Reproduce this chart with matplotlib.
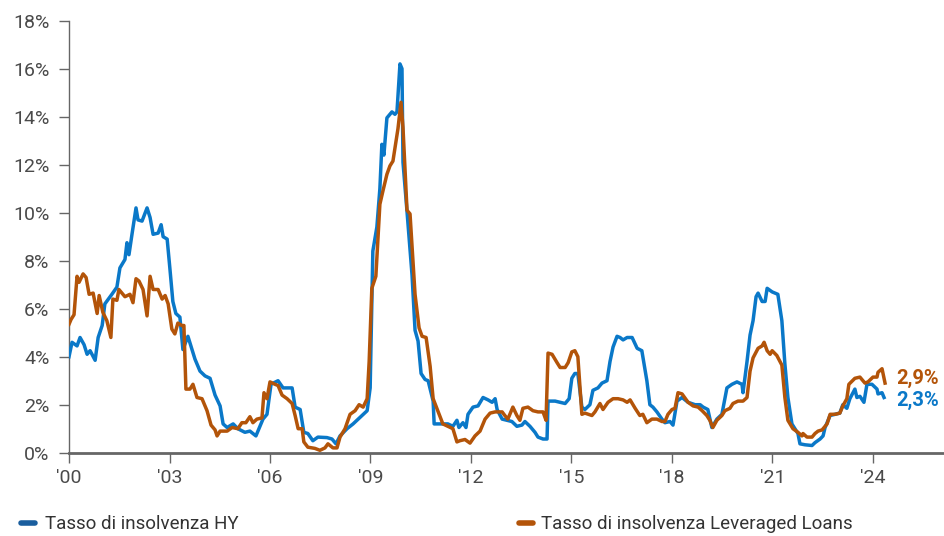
import matplotlib
matplotlib.use("Agg")
import matplotlib.pyplot as plt
from matplotlib.lines import Line2D

plt.rcParams['font.family'] = ['Roboto', 'DejaVu Sans']

# Tasso di insolvenza HY (decimal year, %)
hy_year = [2000.0, 2000.09, 2000.24, 2000.33, 2000.45, 2000.54, 2000.63, 2000.78, 2000.87, 2000.99,
           2001.07, 2001.28, 2001.43, 2001.52, 2001.67, 2001.73, 2001.79, 2001.88, 2002.0, 2002.06,
           2002.18, 2002.33, 2002.42, 2002.51, 2002.66, 2002.75, 2002.81, 2002.93, 2003.01, 2003.10,
           2003.19, 2003.31, 2003.40, 2003.55, 2003.76, 2003.91, 2004.06, 2004.21, 2004.36, 2004.51,
           2004.60, 2004.72, 2004.90, 2005.04, 2005.25, 2005.40, 2005.58, 2005.79, 2005.91, 2006.03,
           2006.24, 2006.39, 2006.66, 2006.75, 2006.90, 2007.01, 2007.13, 2007.28, 2007.43, 2007.70,
           2007.85, 2007.97, 2008.09, 2008.30, 2008.48, 2008.75, 2008.90, 2008.99, 2009.04, 2009.07,
           2009.19, 2009.28, 2009.34, 2009.40, 2009.49, 2009.64, 2009.73, 2009.79, 2009.88, 2009.94,
           2009.97, 2010.09, 2010.24, 2010.33, 2010.42, 2010.51, 2010.63, 2010.72, 2010.87, 2010.90,
           2011.07, 2011.31, 2011.46, 2011.58, 2011.64, 2011.76, 2011.85, 2011.91, 2012.06, 2012.21,
           2012.36, 2012.51, 2012.63, 2012.72, 2012.78, 2012.93, 2013.07, 2013.22, 2013.37, 2013.52,
           2013.61, 2013.76, 2013.91, 2014.0, 2014.15, 2014.27, 2014.30, 2014.51, 2014.66, 2014.81,
           2014.93, 2015.01, 2015.10, 2015.19, 2015.31, 2015.40, 2015.55, 2015.64, 2015.79, 2015.91,
           2016.06, 2016.15, 2016.24, 2016.36, 2016.45, 2016.54, 2016.66, 2016.81, 2016.96, 2017.10,
           2017.25, 2017.34, 2017.43, 2017.55, 2017.70, 2017.79, 2017.94, 2018.03, 2018.15, 2018.30,
           2018.48, 2018.69, 2018.84, 2018.93, 2019.07, 2019.19, 2019.34, 2019.49, 2019.64, 2019.79,
           2019.94, 2020.09, 2020.12, 2020.24, 2020.33, 2020.42, 2020.51, 2020.57, 2020.69, 2020.78,
           2020.84, 2020.99, 2021.16, 2021.28, 2021.37, 2021.46, 2021.58, 2021.67, 2021.76, 2021.82,
           2021.97, 2022.18, 2022.27, 2022.42, 2022.51, 2022.57, 2022.72, 2022.87, 2023.01, 2023.10,
           2023.22, 2023.31, 2023.46, 2023.52, 2023.61, 2023.73, 2023.82, 2023.97, 2024.12, 2024.15,
           2024.27, 2024.33]
hy_rate = [4.0, 4.6, 4.45, 4.8, 4.5, 4.1, 4.25, 3.85, 4.8, 5.3,
           6.2, 6.6, 6.9, 7.7, 8.05, 8.75, 8.25, 9.1, 10.2, 9.7,
           9.65, 10.2, 9.8, 9.1, 9.15, 9.5, 9.0, 8.9, 7.7, 6.3,
           5.8, 5.65, 4.3, 4.85, 3.9, 3.4, 3.2, 3.1, 2.4, 1.95,
           1.2, 1.05, 1.2, 1.0, 0.85, 0.9, 0.7, 1.4, 1.6, 2.85,
           3.0, 2.7, 2.7, 1.9, 1.8, 0.85, 0.8, 0.5, 0.65, 0.63,
           0.57, 0.37, 0.7, 1.0, 1.2, 1.55, 1.75, 2.7, 6.3, 8.4,
           9.4, 11.0, 12.85, 12.4, 13.95, 14.2, 14.1, 14.2, 16.2, 16.0,
           12.1, 10.05, 7.4, 5.1, 4.65, 3.3, 3.05, 3.0, 2.15, 1.2,
           1.2, 1.2, 1.1, 1.35, 1.05, 1.25, 1.05, 1.6, 1.9, 1.95,
           2.3, 2.2, 2.1, 2.25, 1.8, 1.4, 1.35, 1.3, 1.1, 1.15,
           1.3, 1.1, 0.85, 0.65, 0.57, 0.57, 2.15, 2.15, 2.1, 2.05,
           2.25, 3.1, 3.3, 3.3, 1.9, 1.8, 2.0, 2.6, 2.7, 2.9,
           3.0, 3.8, 4.4, 4.85, 4.8, 4.7, 4.8, 4.8, 4.35, 4.25,
           3.0, 2.0, 1.9, 1.7, 1.4, 1.25, 1.3, 1.15, 2.15, 2.3,
           2.1, 2.0, 2.0, 1.9, 1.8, 1.05, 1.4, 1.6, 2.7, 2.85,
           2.95, 2.85, 2.5, 3.8, 4.9, 5.5, 6.5, 6.65, 6.3, 6.3,
           6.85, 6.7, 6.6, 5.5, 3.7, 2.3, 1.2, 1.0, 0.8, 0.37,
           0.33, 0.3, 0.42, 0.57, 0.7, 1.05, 1.55, 1.6, 1.65, 2.0,
           1.85, 2.25, 2.65, 2.3, 2.35, 2.1, 2.85, 2.85, 2.65, 2.45,
           2.5, 2.3]

# Tasso di insolvenza Leveraged Loans (decimal year, %)
ll_year = [2000.0, 2000.06, 2000.15, 2000.24, 2000.30, 2000.42, 2000.51, 2000.60, 2000.72, 2000.84,
           2000.90, 2001.01, 2001.13, 2001.25, 2001.31, 2001.43, 2001.49, 2001.67, 2001.82, 2001.91,
           2002.0, 2002.09, 2002.21, 2002.33, 2002.42, 2002.51, 2002.66, 2002.78, 2002.87, 2002.96,
           2003.07, 2003.16, 2003.25, 2003.37, 2003.43, 2003.49, 2003.61, 2003.70, 2003.82, 2003.97,
           2004.12, 2004.24, 2004.36, 2004.42, 2004.51, 2004.72, 2004.87, 2005.04, 2005.16, 2005.28,
           2005.40, 2005.49, 2005.61, 2005.76, 2005.82, 2005.91, 2006.0, 2006.15, 2006.24, 2006.36,
           2006.51, 2006.66, 2006.75, 2006.84, 2006.96, 2007.01, 2007.13, 2007.34, 2007.49, 2007.64,
           2007.73, 2007.88, 2008.0, 2008.09, 2008.24, 2008.39, 2008.54, 2008.66, 2008.78, 2008.90,
           2008.96, 2009.04, 2009.16, 2009.28, 2009.37, 2009.49, 2009.58, 2009.67, 2009.76, 2009.82,
           2009.91, 2009.97, 2010.09, 2010.18, 2010.33, 2010.45, 2010.54, 2010.66, 2010.78, 2010.87,
           2011.16, 2011.46, 2011.58, 2011.67, 2011.82, 2011.97, 2012.12, 2012.27, 2012.42, 2012.57,
           2012.72, 2012.93, 2013.01, 2013.10, 2013.25, 2013.37, 2013.46, 2013.55, 2013.70, 2013.85,
           2014.0, 2014.15, 2014.24, 2014.30, 2014.42, 2014.57, 2014.66, 2014.81, 2014.90, 2015.01,
           2015.10, 2015.19, 2015.31, 2015.40, 2015.61, 2015.70, 2015.85, 2015.94, 2016.09, 2016.24,
           2016.39, 2016.54, 2016.66, 2016.75, 2016.90, 2017.04, 2017.13, 2017.25, 2017.40, 2017.55,
           2017.70, 2017.79, 2017.88, 2018.0, 2018.09, 2018.18, 2018.30, 2018.48, 2018.63, 2018.78,
           2018.90, 2019.04, 2019.13, 2019.22, 2019.34, 2019.49, 2019.58, 2019.73, 2019.82, 2019.97,
           2020.12, 2020.24, 2020.33, 2020.42, 2020.57, 2020.69, 2020.75, 2020.84, 2020.93, 2020.99,
           2021.13, 2021.28, 2021.37, 2021.46, 2021.61, 2021.76, 2021.88, 2021.91, 2022.03, 2022.18,
           2022.27, 2022.36, 2022.48, 2022.63, 2022.72, 2022.87, 2023.01, 2023.10, 2023.22, 2023.28,
           2023.46, 2023.61, 2023.76, 2023.85, 2024.0, 2024.12, 2024.15, 2024.27, 2024.36]
ll_rate = [5.35, 5.55, 5.75, 7.35, 7.1, 7.45, 7.3, 6.6, 6.65, 5.8,
           6.55, 5.85, 5.5, 4.8, 6.4, 6.35, 6.8, 6.5, 6.6, 6.25,
           7.25, 7.15, 6.8, 5.7, 7.35, 6.8, 6.8, 6.4, 6.55, 6.2,
           5.15, 4.95, 5.4, 5.3, 5.3, 2.65, 2.65, 2.85, 2.3, 2.25,
           1.75, 1.15, 0.95, 0.7, 0.9, 0.9, 1.05, 1.0, 1.25, 1.25,
           1.5, 1.25, 1.4, 1.45, 2.5, 2.25, 2.95, 2.85, 2.8, 2.4,
           2.25, 2.05, 1.55, 1.0, 1.0, 0.45, 0.23, 0.18, 0.1, 0.2,
           0.37, 0.2, 0.2, 0.65, 1.0, 1.6, 1.75, 2.0, 1.9, 2.25,
           3.8, 6.85, 7.35, 10.35, 10.9, 11.6, 11.95, 12.15, 12.95, 13.5,
           14.6, 13.55, 10.1, 9.95, 6.6, 5.2, 4.85, 4.8, 3.6, 2.25,
           1.2, 1.0, 0.45, 0.5, 0.55, 0.4, 0.7, 0.9, 1.4, 1.65,
           1.7, 1.7, 1.55, 1.4, 1.9, 1.55, 1.35, 1.85, 1.9, 1.75,
           1.7, 1.7, 1.35, 4.15, 4.1, 3.75, 3.55, 3.55, 3.75, 4.2,
           4.25, 4.0, 1.6, 1.65, 1.55, 1.7, 2.05, 1.8, 2.1, 2.25,
           2.25, 2.2, 2.1, 2.2, 1.85, 1.55, 1.6, 1.25, 1.4, 1.4,
           1.3, 1.3, 1.6, 1.8, 1.85, 2.5, 2.45, 2.1, 1.95, 1.9,
           1.75, 1.55, 1.35, 1.05, 1.35, 1.55, 1.75, 1.85, 2.05, 2.15,
           2.15, 2.3, 3.4, 3.95, 4.35, 4.45, 4.6, 4.25, 4.1, 4.25,
           4.05, 3.65, 2.3, 1.35, 1.0, 0.85, 0.7, 0.8, 0.65, 0.65,
           0.8, 0.9, 0.95, 1.2, 1.6, 1.6, 1.65, 1.95, 2.25, 2.85,
           3.1, 3.15, 2.9, 2.95, 3.15, 3.15, 3.35, 3.5, 2.9]

tick_years = [2000, 2003, 2006, 2009, 2012, 2015, 2018, 2021, 2024]
tick_labels = ["'00", "'03", "'06", "'09", "'12", "'15", "'18", "'21", "'24"]
y_ticks = [0, 2, 4, 6, 8, 10, 12, 14, 16, 18]

blue = '#0a78c8'
orange = '#b35409'
grey_txt = '#4a4a4a'

fig = plt.figure(figsize=(9.44, 5.36), dpi=100)
ax = fig.add_axes([0.0731, 0.1554, 0.9269, 0.806])

ax.plot(hy_year, hy_rate, color=blue, lw=2.5, solid_joinstyle='round', zorder=3)
ax.plot(ll_year, ll_rate, color=orange, lw=2.5, solid_joinstyle='round', zorder=4)

ax.set_xlim(2000, 2026.12)
ax.set_ylim(0, 18)
ax.set_xticks(tick_years)
ax.set_xticklabels(tick_labels)
ax.set_yticks(y_ticks)
ax.set_yticklabels([f'{v}%' for v in y_ticks])

for s in ['top', 'right']:
    ax.spines[s].set_visible(False)
ax.spines['left'].set_color('#666666')
ax.spines['left'].set_linewidth(1.0)
ax.spines['bottom'].set_color('#666666')
ax.spines['bottom'].set_linewidth(2.0)
ax.tick_params(axis='y', direction='out', length=7, width=1, color='#666666',
               labelsize=14, labelcolor=grey_txt, pad=7)
ax.tick_params(axis='x', direction='out', length=7, width=1, color='#666666',
               labelsize=14, labelcolor=grey_txt, pad=5)

# end labels
ax.annotate('2,9%', xy=(hy_year[-1], ll_rate[-1]), xytext=(9, 3), textcoords='offset points',
            color=orange, fontsize=14.5, fontweight='bold', va='center', ha='left')
ax.annotate('2,3%', xy=(hy_year[-1], hy_rate[-1]), xytext=(9, -2), textcoords='offset points',
            color=blue, fontsize=14.5, fontweight='bold', va='center', ha='left')

# legend entries
fig.add_artist(Line2D([0.022, 0.037], [0.024, 0.024], color='#1a5e9e', lw=4,
                      solid_capstyle='round'))
fig.text(0.048, 0.022, 'Tasso di insolvenza HY', color='#333333', fontsize=13.5,
         va='center', ha='left')
fig.add_artist(Line2D([0.550, 0.565], [0.024, 0.024], color=orange, lw=4,
                      solid_capstyle='round'))
fig.text(0.573, 0.022, 'Tasso di insolvenza Leveraged Loans', color='#333333', fontsize=13.5,
         va='center', ha='left')

fig.savefig('out.png', dpi=100)
